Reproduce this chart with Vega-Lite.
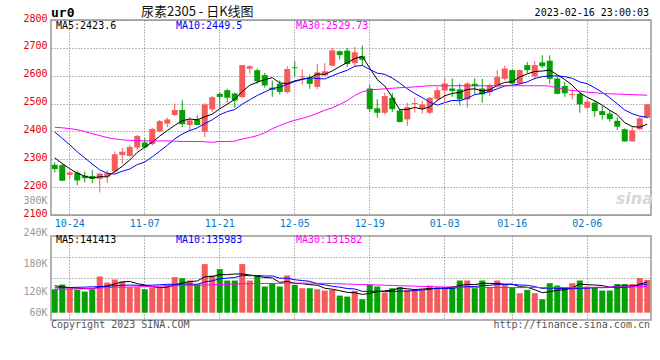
{
"$schema": "https://vega.github.io/schema/vega-lite/v6.json",
"padding": {"left": 0, "top": 4, "right": 0, "bottom": 0},
"background": "white",
"bounds": "flush",
"spacing": 21,
"data": {"values": [
{"date":"2022-10-20","open":2280,"high":2289,"low":2253,"close":2265,"volume":125900,"ma5":2305,"ma10":2398,"ma30":2415,"vma5":133500,"vma10":129000,"vma30":126000},
{"date":"2022-10-21","open":2279,"high":2283,"low":2222,"close":2223,"volume":136000,"ma5":2285,"ma10":2375,"ma30":2413,"vma5":131000,"vma10":129000,"vma30":126000},
{"date":"2022-10-24","open":2244,"high":2259,"low":2230,"close":2253,"volume":128100,"ma5":2266,"ma10":2352,"ma30":2410,"vma5":129500,"vma10":129500,"vma30":126200},
{"date":"2022-10-25","open":2252,"high":2259,"low":2207,"close":2224,"volume":124500,"ma5":2250,"ma10":2327,"ma30":2406,"vma5":128000,"vma10":130000,"vma30":126500},
{"date":"2022-10-26","open":2241,"high":2256,"low":2217,"close":2232,"volume":120900,"ma5":2239.4,"ma10":2305,"ma30":2400,"vma5":127100,"vma10":130500,"vma30":127000},
{"date":"2022-10-27","open":2240,"high":2262,"low":2214,"close":2230,"volume":125900,"ma5":2232.4,"ma10":2283,"ma30":2392,"vma5":127100,"vma10":131000,"vma30":127800},
{"date":"2022-10-28","open":2230,"high":2250,"low":2181,"close":2249,"volume":153200,"ma5":2237.6,"ma10":2262,"ma30":2385,"vma5":130500,"vma10":131500,"vma30":128600},
{"date":"2022-10-31","open":2238,"high":2260,"low":2215,"close":2250,"volume":140300,"ma5":2237.0,"ma10":2250,"ma30":2378,"vma5":133000,"vma10":132500,"vma30":129300},
{"date":"2022-11-01","open":2256,"high":2328,"low":2252,"close":2318,"volume":146800,"ma5":2255.8,"ma10":2247,"ma30":2373,"vma5":137400,"vma10":133500,"vma30":130000},
{"date":"2022-11-02","open":2315,"high":2341,"low":2284,"close":2327,"volume":142400,"ma5":2274.8,"ma10":2257.1,"ma30":2370,"vma5":141700,"vma10":134400,"vma30":130300},
{"date":"2022-11-03","open":2312,"high":2352,"low":2310,"close":2344,"volume":130200,"ma5":2297.6,"ma10":2265.0,"ma30":2368,"vma5":142600,"vma10":134800,"vma30":130600},
{"date":"2022-11-04","open":2342,"high":2388,"low":2332,"close":2384,"volume":130200,"ma5":2324.6,"ma10":2281.1,"ma30":2367,"vma5":138000,"vma10":134300,"vma30":131000},
{"date":"2022-11-07","open":2360,"high":2376,"low":2338,"close":2343,"volume":125900,"ma5":2343.2,"ma10":2290.1,"ma30":2366,"vma5":135100,"vma10":134000,"vma30":131500},
{"date":"2022-11-08","open":2355,"high":2413,"low":2350,"close":2409,"volume":130200,"ma5":2361.4,"ma10":2308.6,"ma30":2366,"vma5":131800,"vma10":134600,"vma30":132000},
{"date":"2022-11-09","open":2400,"high":2441,"low":2396,"close":2437,"volume":130200,"ma5":2383.4,"ma10":2329.1,"ma30":2366,"vma5":129300,"vma10":135500,"vma30":132500},
{"date":"2022-11-10","open":2428,"high":2450,"low":2415,"close":2443,"volume":135300,"ma5":2403.2,"ma10":2350.4,"ma30":2366,"vma5":130400,"vma10":136500,"vma30":133000},
{"date":"2022-11-11","open":2459,"high":2500,"low":2455,"close":2477,"volume":151800,"ma5":2421.8,"ma10":2373.2,"ma30":2365,"vma5":134700,"vma10":136300,"vma30":133300},
{"date":"2022-11-14","open":2477,"high":2512,"low":2416,"close":2426,"volume":149600,"ma5":2438.4,"ma10":2390.8,"ma30":2364,"vma5":139400,"vma10":137300,"vma30":133600},
{"date":"2022-11-15","open":2423,"high":2452,"low":2402,"close":2440,"volume":144600,"ma5":2444.6,"ma10":2403.0,"ma30":2364,"vma5":142300,"vma10":137000,"vma30":134000},
{"date":"2022-11-16","open":2443,"high":2458,"low":2422,"close":2423,"volume":136700,"ma5":2441.8,"ma10":2412.6,"ma30":2364,"vma5":143600,"vma10":136500,"vma30":134400},
{"date":"2022-11-17","open":2399,"high":2501,"low":2380,"close":2497,"volume":179800,"ma5":2452.6,"ma10":2427.9,"ma30":2363,"vma5":152500,"vma10":141400,"vma30":135000},
{"date":"2022-11-18","open":2479,"high":2527,"low":2468,"close":2523,"volume":155400,"ma5":2461.8,"ma10":2441.8,"ma30":2361,"vma5":153200,"vma10":144000,"vma30":135500},
{"date":"2022-11-21","open":2535,"high":2542,"low":2486,"close":2524,"volume":169000,"ma5":2481.4,"ma10":2459.9,"ma30":2364,"vma5":157100,"vma10":148300,"vma30":136000},
{"date":"2022-11-22","open":2548,"high":2553,"low":2503,"close":2521,"volume":144600,"ma5":2497.6,"ma10":2471.1,"ma30":2364,"vma5":157100,"vma10":149700,"vma30":136500},
{"date":"2022-11-23","open":2536,"high":2539,"low":2485,"close":2511,"volume":144600,"ma5":2515.2,"ma10":2478.5,"ma30":2365,"vma5":158700,"vma10":151100,"vma30":137000},
{"date":"2022-11-24","open":2523,"high":2638,"low":2521,"close":2638,"volume":179800,"ma5":2543.4,"ma10":2498.0,"ma30":2373,"vma5":158700,"vma10":155600,"vma30":137500},
{"date":"2022-11-25","open":2625,"high":2638,"low":2607,"close":2634,"volume":144600,"ma5":2565.6,"ma10":2513.7,"ma30":2378,"vma5":156500,"vma10":154900,"vma30":137800},
{"date":"2022-11-28","open":2620,"high":2626,"low":2571,"close":2580,"volume":155400,"ma5":2576.8,"ma10":2529.1,"ma30":2385,"vma5":153800,"vma10":155500,"vma30":138000},
{"date":"2022-11-29","open":2602,"high":2610,"low":2557,"close":2565,"volume":131700,"ma5":2585.6,"ma10":2541.6,"ma30":2395,"vma5":151200,"vma10":154200,"vma30":138200},
{"date":"2022-11-30","open":2557,"high":2583,"low":2524,"close":2549,"volume":138900,"ma5":2593.2,"ma10":2554.2,"ma30":2410,"vma5":150100,"vma10":154400,"vma30":138400},
{"date":"2022-12-01","open":2571,"high":2583,"low":2533,"close":2542,"volume":131700,"ma5":2574.0,"ma10":2558.7,"ma30":2421,"vma5":140500,"vma10":149600,"vma30":138600},
{"date":"2022-12-02","open":2541,"high":2634,"low":2536,"close":2624,"volume":155400,"ma5":2572.0,"ma10":2568.8,"ma30":2432,"vma5":142600,"vma10":149600,"vma30":138800},
{"date":"2022-12-05","open":2630,"high":2652,"low":2598,"close":2627,"volume":135300,"ma5":2581.4,"ma10":2579.1,"ma30":2440,"vma5":138600,"vma10":146200,"vma30":139000},
{"date":"2022-12-06","open":2594,"high":2622,"low":2568,"close":2597,"volume":128100,"ma5":2587.8,"ma10":2586.7,"ma30":2447,"vma5":137900,"vma10":144600,"vma30":139000},
{"date":"2022-12-07","open":2592,"high":2604,"low":2553,"close":2571,"volume":128100,"ma5":2592.2,"ma10":2592.7,"ma30":2455,"vma5":135700,"vma10":142900,"vma30":139000},
{"date":"2022-12-08","open":2560,"high":2643,"low":2551,"close":2612,"volume":125900,"ma5":2606.2,"ma10":2590.1,"ma30":2465,"vma5":134600,"vma10":137500,"vma30":138800},
{"date":"2022-12-09","open":2601,"high":2645,"low":2600,"close":2616,"volume":123100,"ma5":2604.6,"ma10":2588.3,"ma30":2476,"vma5":128100,"vma10":135400,"vma30":138500},
{"date":"2022-12-12","open":2636,"high":2699,"low":2634,"close":2691,"volume":124500,"ma5":2617.4,"ma10":2599.4,"ma30":2485,"vma5":125900,"vma10":132300,"vma30":138000},
{"date":"2022-12-13","open":2688,"high":2691,"low":2658,"close":2674,"volume":112300,"ma5":2632.8,"ma10":2610.3,"ma30":2497,"vma5":122800,"vma10":130300,"vma30":137500},
{"date":"2022-12-14","open":2690,"high":2700,"low":2632,"close":2642,"volume":110200,"ma5":2647.0,"ma10":2619.6,"ma30":2511,"vma5":119200,"vma10":127500,"vma30":137000},
{"date":"2022-12-15","open":2645,"high":2703,"low":2634,"close":2684,"volume":122400,"ma5":2661.4,"ma10":2633.8,"ma30":2529,"vma5":118500,"vma10":126500,"vma30":136500},
{"date":"2022-12-16","open":2670,"high":2708,"low":2637,"close":2657,"volume":104400,"ma5":2669.6,"ma10":2637.1,"ma30":2542,"vma5":114800,"vma10":121400,"vma30":136000},
{"date":"2022-12-19","open":2554,"high":2567,"low":2470,"close":2480,"volume":135300,"ma5":2627.4,"ma10":2622.4,"ma30":2549,"vma5":116900,"vma10":121400,"vma30":135500},
{"date":"2022-12-20","open":2483,"high":2516,"low":2449,"close":2467,"volume":131700,"ma5":2586.0,"ma10":2609.4,"ma30":2551,"vma5":120800,"vma10":121800,"vma30":135000},
{"date":"2022-12-21","open":2467,"high":2539,"low":2461,"close":2527,"volume":118800,"ma5":2563.0,"ma10":2605.0,"ma30":2553,"vma5":122500,"vma10":120900,"vma30":134500},
{"date":"2022-12-22","open":2521,"high":2539,"low":2470,"close":2480,"volume":128100,"ma5":2522.2,"ma10":2591.8,"ma30":2555,"vma5":123700,"vma10":121100,"vma30":134000},
{"date":"2022-12-23","open":2475,"high":2482,"low":2432,"close":2434,"volume":130200,"ma5":2477.6,"ma10":2573.6,"ma30":2557,"vma5":128800,"vma10":121800,"vma30":133500},
{"date":"2022-12-26","open":2443,"high":2503,"low":2420,"close":2487,"volume":124500,"ma5":2479.0,"ma10":2553.2,"ma30":2558,"vma5":126700,"vma10":121800,"vma30":133000},
{"date":"2022-12-27","open":2498,"high":2521,"low":2468,"close":2502,"volume":124500,"ma5":2486.0,"ma10":2536.0,"ma30":2560,"vma5":125200,"vma10":123000,"vma30":132500},
{"date":"2022-12-28","open":2480,"high":2509,"low":2464,"close":2497,"volume":124500,"ma5":2480.0,"ma10":2521.5,"ma30":2562,"vma5":126400,"vma10":124400,"vma30":132000},
{"date":"2022-12-29","open":2467,"high":2523,"low":2461,"close":2521,"volume":133800,"ma5":2488.2,"ma10":2505.2,"ma30":2564,"vma5":127500,"vma10":125600,"vma30":131500},
{"date":"2022-12-30","open":2517,"high":2559,"low":2509,"close":2548,"volume":130200,"ma5":2511.0,"ma10":2494.3,"ma30":2564,"vma5":127500,"vma10":128200,"vma30":131000},
{"date":"2023-01-03","open":2547,"high":2592,"low":2509,"close":2572,"volume":130200,"ma5":2528.0,"ma10":2503.5,"ma30":2564,"vma5":128600,"vma10":127700,"vma30":130800},
{"date":"2023-01-04","open":2554,"high":2590,"low":2524,"close":2545,"volume":131700,"ma5":2536.6,"ma10":2511.3,"ma30":2564,"vma5":130100,"vma10":127700,"vma30":130600},
{"date":"2023-01-05","open":2551,"high":2571,"low":2493,"close":2515,"volume":144600,"ma5":2540.2,"ma10":2510.1,"ma30":2564,"vma5":134100,"vma10":130200,"vma30":130400},
{"date":"2023-01-06","open":2515,"high":2577,"low":2485,"close":2572,"volume":144600,"ma5":2550.4,"ma10":2519.3,"ma30":2564,"vma5":136300,"vma10":131900,"vma30":130200},
{"date":"2023-01-09","open":2571,"high":2590,"low":2533,"close":2562,"volume":128100,"ma5":2553.2,"ma10":2532.1,"ma30":2564,"vma5":135800,"vma10":131700,"vma30":130000},
{"date":"2023-01-10","open":2554,"high":2589,"low":2503,"close":2533,"volume":144600,"ma5":2545.4,"ma10":2536.7,"ma30":2564,"vma5":138700,"vma10":133700,"vma30":129800},
{"date":"2023-01-11","open":2541,"high":2572,"low":2527,"close":2565,"volume":130200,"ma5":2549.4,"ma10":2543.0,"ma30":2564,"vma5":138400,"vma10":134300,"vma30":129600},
{"date":"2023-01-12","open":2562,"high":2620,"low":2557,"close":2595,"volume":144600,"ma5":2565.4,"ma10":2552.8,"ma30":2564,"vma5":138400,"vma10":136300,"vma30":129500},
{"date":"2023-01-13","open":2589,"high":2636,"low":2583,"close":2626,"volume":135300,"ma5":2576.2,"ma10":2563.3,"ma30":2564,"vma5":136600,"vma10":136400,"vma30":129500},
{"date":"2023-01-16","open":2620,"high":2622,"low":2568,"close":2572,"volume":129500,"ma5":2578.2,"ma10":2565.7,"ma30":2564,"vma5":136800,"vma10":136300,"vma30":129500},
{"date":"2023-01-17","open":2572,"high":2622,"low":2568,"close":2620,"volume":117300,"ma5":2595.6,"ma10":2570.5,"ma30":2564,"vma5":131400,"vma10":135100,"vma30":129500},
{"date":"2023-01-18","open":2638,"high":2649,"low":2608,"close":2620,"volume":124500,"ma5":2606.6,"ma10":2578.0,"ma30":2564,"vma5":130200,"vma10":134300,"vma30":129500},
{"date":"2023-01-19","open":2598,"high":2652,"low":2586,"close":2638,"volume":117300,"ma5":2615.2,"ma10":2590.3,"ma30":2564,"vma5":124800,"vma10":131600,"vma30":129500},
{"date":"2023-01-20","open":2648,"high":2673,"low":2628,"close":2634,"volume":104400,"ma5":2616.8,"ma10":2596.5,"ma30":2564,"vma5":118600,"vma10":127600,"vma30":129500},
{"date":"2023-01-30","open":2654,"high":2673,"low":2571,"close":2589,"volume":138900,"ma5":2620.2,"ma10":2599.2,"ma30":2563,"vma5":120500,"vma10":128700,"vma30":129500},
{"date":"2023-01-31","open":2590,"high":2598,"low":2533,"close":2535,"volume":133800,"ma5":2603.2,"ma10":2599.4,"ma30":2556,"vma5":123800,"vma10":127600,"vma30":129500},
{"date":"2023-02-01","open":2563,"high":2578,"low":2524,"close":2537,"volume":129500,"ma5":2586.6,"ma10":2596.6,"ma30":2551,"vma5":124800,"vma10":127500,"vma30":129500},
{"date":"2023-02-02","open":2531,"high":2554,"low":2515,"close":2535,"volume":138900,"ma5":2566.0,"ma10":2590.6,"ma30":2547,"vma5":129100,"vma10":126900,"vma30":129500},
{"date":"2023-02-03","open":2535,"high":2545,"low":2467,"close":2497,"volume":144600,"ma5":2538.6,"ma10":2577.7,"ma30":2545,"vma5":137100,"vma10":127900,"vma30":129500},
{"date":"2023-02-06","open":2485,"high":2515,"low":2479,"close":2507,"volume":131700,"ma5":2522.2,"ma10":2571.2,"ma30":2541,"vma5":135700,"vma10":128100,"vma30":129800},
{"date":"2023-02-07","open":2503,"high":2511,"low":2452,"close":2473,"volume":130200,"ma5":2509.8,"ma10":2556.5,"ma30":2539,"vma5":135000,"vma10":129400,"vma30":130000},
{"date":"2023-02-08","open":2473,"high":2491,"low":2443,"close":2459,"volume":123100,"ma5":2494.2,"ma10":2540.4,"ma30":2536,"vma5":133700,"vma10":129200,"vma30":130200},
{"date":"2023-02-09","open":2464,"high":2476,"low":2435,"close":2444,"volume":123100,"ma5":2476.0,"ma10":2521.0,"ma30":2535,"vma5":130500,"vma10":129800,"vma30":130500},
{"date":"2023-02-10","open":2438,"high":2452,"low":2405,"close":2417,"volume":137100,"ma5":2460.0,"ma10":2499.3,"ma30":2534,"vma5":129000,"vma10":133100,"vma30":130800},
{"date":"2023-02-13","open":2408,"high":2411,"low":2364,"close":2364,"volume":137100,"ma5":2431.4,"ma10":2476.8,"ma30":2533,"vma5":130100,"vma10":132900,"vma30":131000},
{"date":"2023-02-14","open":2364,"high":2416,"low":2364,"close":2404,"volume":137100,"ma5":2417.6,"ma10":2463.7,"ma30":2532,"vma5":131500,"vma10":133200,"vma30":131200},
{"date":"2023-02-15","open":2408,"high":2452,"low":2405,"close":2447,"volume":150000,"ma5":2415.2,"ma10":2454.7,"ma30":2531,"vma5":136900,"vma10":135300,"vma30":131400},
{"date":"2023-02-16","open":2449,"high":2499,"low":2446,"close":2497,"volume":145700,"ma5":2425.8,"ma10":2450.9,"ma30":2530,"vma5":141400,"vma10":136000,"vma30":131600}
]},
"vconcat": [
{
"width": 600,
"height": 195,
"encoding": {
  "x": {"field": "date", "type": "ordinal", "title": null,
        "scale": {"paddingInner": 0, "paddingOuter": 0},
        "axis": {"values": ["2022-10-24","2022-11-07","2022-11-21","2022-12-05","2022-12-19","2023-01-03","2023-01-16","2023-02-06"],
                 "labelExpr": "substring(datum.label, 5)", "bandPosition": 0.5, "grid": true, "gridColor": "#777777", "gridDash": [1, 2], "labelAngle": 0,
                 "labelColor": "#0078c8", "labelPadding": 3, "labelOverlap": false, "labelSeparation": -60}},
  "y": {"type": "quantitative", "title": null,
        "scale": {"domain": [2100, 2800], "nice": false, "zero": false},
        "axis": {"values": [2100, 2145, 2200, 2300, 2400, 2500, 2600, 2700, 2800], "format": "d",
                 "labelExpr": "datum.value == 2145 ? '300K' : datum.label",
                 "labelColor": {"condition": {"test": "datum.value == 2145", "value": "#999999"}, "value": "#e00000"},
                 "gridOpacity": {"condition": {"test": "datum.value == 2145", "value": 0}, "value": 1},
                 "gridColor": "#777777", "gridDash": [1, 2],
                 "labelOffset": -2, "labelOverlap": false, "labelSeparation": -60, "grid": true}}
},
"layer": [
{"mark": {"type": "rule", "strokeWidth": 1},
 "encoding": {
  "y": {"field": "low"},
  "y2": {"field": "high"},
  "color": {"condition": {"test": "datum.close > datum.open", "value": "#f45b5b"}, "value": "#04a004"}
 }},
{"mark": {"type": "bar", "size": 6},
 "encoding": {
  "y": {"field": "open"},
  "y2": {"field": "close"},
  "color": {"condition": {"test": "datum.close > datum.open", "value": "#f45b5b"}, "value": "#04a004"}
 }},
{"mark": {"type": "line", "color": "#000000", "strokeWidth": 1},
 "encoding": {"y": {"field": "ma5"}}},
{"mark": {"type": "line", "color": "#0000ff", "strokeWidth": 1},
 "encoding": {"y": {"field": "ma10"}}},
{"mark": {"type": "line", "color": "#ff00ff", "strokeWidth": 1},
 "encoding": {"y": {"field": "ma30"}}},
{"data": {"values": [
  {"series": "MA5", "label": "MA5:2423.6", "date": "2022-10-20", "price": 2778.4},
  {"series": "MA10", "label": "MA10:2449.5", "date": "2022-11-11", "price": 2778.4},
  {"series": "MA30", "label": "MA30:2529.73", "date": "2022-12-05", "price": 2778.4}]},
 "mark": {"type": "text", "align": "left", "baseline": "middle", "dx": 5, "font": "DejaVu Sans Mono", "fontSize": 10},
 "encoding": {
  "x": {"field": "date", "type": "ordinal", "bandPosition": 0},
  "y": {"field": "price"},
  "text": {"field": "label"},
  "color": {"field": "series", "type": "nominal", "scale": {"domain": ["MA5", "MA10", "MA30"], "range": ["#000000", "#0000ff", "#ff00ff"]}, "legend": null}
 }},
{"data": {"values": [{"label": "ur0", "date": "2022-10-20", "price": 2823.4}]},
 "mark": {"type": "text", "align": "left", "baseline": "middle", "font": "DejaVu Sans Mono", "fontWeight": "bold", "fontSize": 13, "color": "#000000"},
 "encoding": {"x": {"field": "date", "type": "ordinal", "bandPosition": 0}, "y": {"field": "price"}, "text": {"field": "label"}}},
{"data": {"values": [{"label": "尿素2305 - 日K线图", "date": "2022-11-07", "price": 2830.5}]},
 "mark": {"type": "text", "align": "left", "baseline": "middle", "font": "Noto Sans CJK SC", "fontSize": 13, "color": "#111111"},
 "encoding": {"x": {"field": "date", "type": "ordinal", "bandPosition": 0}, "y": {"field": "price"}, "text": {"field": "label"}}},
{"data": {"values": [{"label": "2023-02-16 23:00:03", "date": "2023-02-16", "price": 2823.4}]},
 "mark": {"type": "text", "align": "right", "baseline": "middle", "dx": -2, "font": "DejaVu Sans Mono", "fontSize": 10, "color": "#000000"},
 "encoding": {"x": {"field": "date", "type": "ordinal", "bandPosition": 1}, "y": {"field": "price"}, "text": {"field": "label"}}},
{"data": {"values": [{"label": "sina", "date": "2023-02-16", "price": 2159}]},
 "mark": {"type": "text", "align": "right", "baseline": "middle", "dx": 2, "font": "DejaVu Sans", "fontStyle": "italic", "fontWeight": "bold", "fontSize": 16, "color": "#d6d6d6"},
 "encoding": {"x": {"field": "date", "type": "ordinal", "bandPosition": 1}, "y": {"field": "price"}, "text": {"field": "label"}}}
]
},
{
"width": 600,
"height": 84,
"encoding": {
  "x": {"field": "date", "type": "ordinal", "title": null,
        "scale": {"paddingInner": 0, "paddingOuter": 0},
        "axis": {"values": ["2022-10-24","2022-11-07","2022-11-21","2022-12-05","2022-12-19","2023-01-03","2023-01-16","2023-02-06"],
                 "labels": false, "bandPosition": 0.5, "grid": true, "gridColor": "#777777", "gridDash": [1, 2]}},
  "y": {"type": "quantitative", "title": null,
        "scale": {"domain": [60000, 240000], "nice": false, "zero": false},
        "axis": {"values": [60000, 105000, 120000, 150000, 180000, 195000, 240000],
                 "labelExpr": "datum.value / 1000 + 'K'", "labelColor": "#999999",
                 "labelOpacity": {"condition": {"test": "datum.value % 60000 == 0", "value": 1}, "value": 0},
                 "gridOpacity": {"condition": {"test": "datum.value % 60000 == 0", "value": 0}, "value": 1},
                 "gridColor": "#777777", "gridDash": [1, 2],
                 "labelOffset": {"condition": [{"test": "datum.value == 60000", "value": -8}, {"test": "datum.value == 240000", "value": -4}], "value": -1},
                 "labelOverlap": false, "labelSeparation": -60, "grid": true}}
},
"layer": [
{"mark": {"type": "bar", "size": 6},
 "encoding": {
  "y": {"field": "volume"},
  "y2": {"datum": 75600},
  "color": {"condition": {"test": "datum.close > datum.open", "value": "#f45b5b"}, "value": "#04a004"}
 }},
{"mark": {"type": "line", "color": "#000000", "strokeWidth": 1},
 "encoding": {"y": {"field": "vma5"}}},
{"mark": {"type": "line", "color": "#0000ff", "strokeWidth": 1},
 "encoding": {"y": {"field": "vma10"}}},
{"mark": {"type": "line", "color": "#ff00ff", "strokeWidth": 1},
 "encoding": {"y": {"field": "vma30"}}},
{"data": {"values": [
  {"series": "MA5", "label": "MA5:141413", "date": "2022-10-20", "vol": 232300},
  {"series": "MA10", "label": "MA10:135983", "date": "2022-11-11", "vol": 232300},
  {"series": "MA30", "label": "MA30:131582", "date": "2022-12-05", "vol": 232300}]},
 "mark": {"type": "text", "align": "left", "baseline": "middle", "dx": 5, "font": "DejaVu Sans Mono", "fontSize": 10},
 "encoding": {
  "x": {"field": "date", "type": "ordinal", "bandPosition": 0},
  "y": {"field": "vol"},
  "text": {"field": "label"},
  "color": {"field": "series", "type": "nominal", "scale": {"domain": ["MA5", "MA10", "MA30"], "range": ["#000000", "#0000ff", "#ff00ff"]}, "legend": null}
 }},
{"data": {"values": [{"label": "Copyright 2023 SINA.COM", "date": "2022-10-20", "vol": 49300}]},
 "mark": {"type": "text", "align": "left", "baseline": "middle", "font": "DejaVu Sans Mono", "fontSize": 10, "color": "#555555"},
 "encoding": {"x": {"field": "date", "type": "ordinal", "bandPosition": 0}, "y": {"field": "vol"}, "text": {"field": "label"}}},
{"data": {"values": [{"label": "http://finance.sina.com.cn", "date": "2023-02-16", "vol": 49300}]},
 "mark": {"type": "text", "align": "right", "baseline": "middle", "dx": -1, "font": "DejaVu Sans Mono", "fontSize": 10, "color": "#555555"},
 "encoding": {"x": {"field": "date", "type": "ordinal", "bandPosition": 1}, "y": {"field": "vol"}, "text": {"field": "label"}}}
]
}
],
"config": {
 "view": {"stroke": "#999999", "strokeWidth": 1.5},
 "axis": {"title": null, "labelFont": "DejaVu Sans Mono", "labelFontSize": 10, "grid": true, "gridWidth": 1, "gridOpacity": 1, "ticks": false, "domain": false, "labelOverlap": false},
 "axisY": {"minExtent": 50, "maxExtent": 50, "labelPadding": 4}
}
}
